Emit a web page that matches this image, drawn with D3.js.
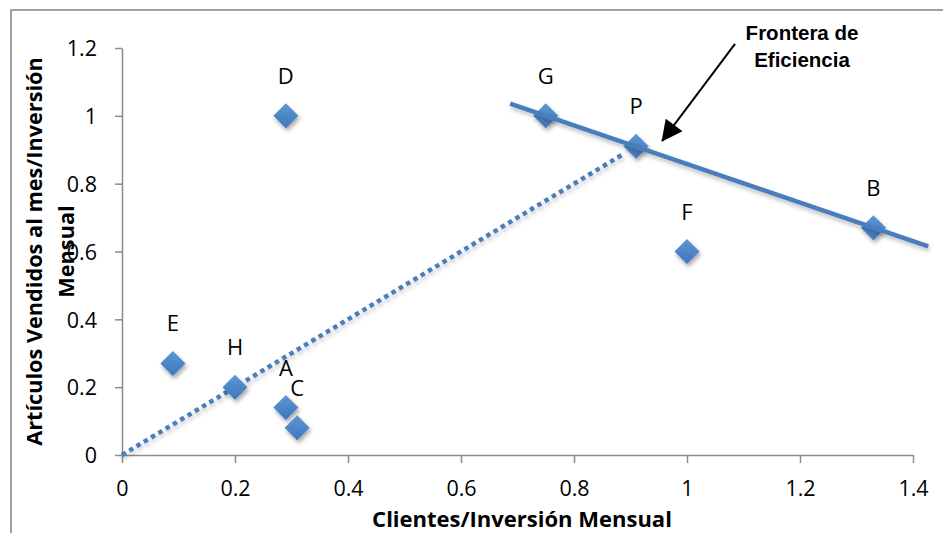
<!DOCTYPE html>
<html>
<head>
<meta charset="utf-8">
<script src="https://cdn.jsdelivr.net/npm/d3@7/dist/d3.min.js"></script>
<style>
  html, body { margin: 0; padding: 0; background: #fff; }
  svg { display: block; }
</style>
</head>
<body>
<svg id="chart" width="943" height="533"></svg>
<script>
// Puntos evaluados: clientes e artículos vendidos por inversión mensual
const labels  = ["D", "G", "P", "B", "F", "E", "H", "A", "C"];
const xValues = [0.29, 0.75, 0.91, 1.33, 1.00, 0.09, 0.20, 0.29, 0.31];
const yValues = [1.00, 1.00, 0.91, 0.67, 0.60, 0.27, 0.20, 0.14, 0.08];

// Frontera de eficiencia (recta por G, P, B) y rayo desde el origen hacia P
const frontierX = [0.687, 1.427];
const frontierY = [1.036, 0.615];
const rayX = [0, 0.89];
const rayY = [0, 0.89];

const xTicks = [0, 0.2, 0.4, 0.6, 0.8, 1, 1.2, 1.4];
const yTicks = [0, 0.2, 0.4, 0.6, 0.8, 1, 1.2];

const xTitle = "Clientes/Inversión Mensual";
const yTitleLines = ["Artículos Vendidos al mes/Inversión", "Mensual"];
const noteLines = ["Frontera de", "Eficiencia"];

const svg = d3.select("#chart");
const W = 943, H = 533;
const plot = { left: 122, right: 913, top: 48, bottom: 455 };

const x = d3.scaleLinear().domain([0, 1.4]).range([plot.left, plot.right]);
const y = d3.scaleLinear().domain([0, 1.2]).range([plot.bottom, plot.top]);

const blue = "#4a7ebd";
const axisGrey = "#8c8c8c";
const tickFont = "'Open Sans', 'Liberation Sans', sans-serif";

// definitions: marker gradient, soft shadow, arrow head
const defs = svg.append("defs");
const grad = defs.append("linearGradient").attr("id", "dgrad")
  .attr("x1", "0").attr("y1", "0").attr("x2", "0").attr("y2", "1");
grad.append("stop").attr("offset", "0%").attr("stop-color", "#5c97d6");
grad.append("stop").attr("offset", "100%").attr("stop-color", "#3f76b9");

const sh = defs.append("filter").attr("id", "shadow")
  .attr("x", "-50%").attr("y", "-50%").attr("width", "200%").attr("height", "200%");
sh.append("feDropShadow").attr("dx", 1.5).attr("dy", 3).attr("stdDeviation", 2)
  .attr("flood-color", "#000").attr("flood-opacity", 0.35);

const lsh = defs.append("filter").attr("id", "lshadow")
  .attr("x", "-10%").attr("y", "-50%").attr("width", "120%").attr("height", "200%");
lsh.append("feDropShadow").attr("dx", 1).attr("dy", 3).attr("stdDeviation", 2)
  .attr("flood-color", "#000").attr("flood-opacity", 0.25);

defs.append("marker").attr("id", "arrowhead")
  .attr("viewBox", "0 0 10 10").attr("refX", 9.5).attr("refY", 5)
  .attr("markerUnits", "userSpaceOnUse")
  .attr("markerWidth", 24).attr("markerHeight", 21)
  .attr("orient", "auto")
  .append("path").attr("d", "M0,0 L10,5 L0,10 Z").attr("fill", "#000");

// chart area frame
svg.append("path")
  .attr("d", `M11,${H + 2} L11,10 L${W + 2},10`)
  .attr("fill", "none").attr("stroke", "#a0a0a0").attr("stroke-width", 2);

// axes
const xAxis = svg.append("g")
  .attr("transform", `translate(0,${plot.bottom})`)
  .call(d3.axisBottom(x).tickValues(xTicks).tickFormat(d3.format("")).tickSizeInner(8).tickSizeOuter(0));
const yAxis = svg.append("g")
  .attr("transform", `translate(${plot.left},0)`)
  .call(d3.axisLeft(y).tickValues(yTicks).tickFormat(d3.format("")).tickSizeInner(7).tickSizeOuter(0));

[xAxis, yAxis].forEach(g => {
  g.select(".domain").attr("stroke", axisGrey).attr("stroke-width", 1.5);
  g.selectAll(".tick line").attr("stroke", axisGrey).attr("stroke-width", 1.5);
  g.selectAll(".tick text")
    .attr("fill", "#000")
    .style("font-family", tickFont)
    .style("font-size", "21.5px");
});
xAxis.selectAll(".tick text").attr("y", 41).attr("dy", 0);
yAxis.selectAll(".tick text").attr("x", -25).attr("dy", "0.36em");

// ray from origin toward P (dotted)
const line = d3.line().x(d => x(d[0])).y(d => y(d[1]));
svg.append("path")
  .datum(rayX.map((v, i) => [v, rayY[i]]))
  .attr("d", line)
  .attr("fill", "none").attr("stroke", blue)
  .attr("stroke-width", 4.5).attr("stroke-dasharray", "4.5,4")
  .attr("filter", "url(#lshadow)");

// points
const pts = labels.map((l, i) => ({ label: l, x: xValues[i], y: yValues[i] }));
const r = 12.5;
svg.append("g").selectAll("path")
  .data(pts).join("path")
  .attr("d", `M0,${-r} L${r},0 L0,${r} L${-r},0 Z`)
  .attr("transform", d => `translate(${x(d.x)},${y(d.y)})`)
  .attr("fill", "url(#dgrad)")
  .attr("filter", "url(#shadow)");

// efficiency frontier (solid)
svg.append("path")
  .datum(frontierX.map((v, i) => [v, frontierY[i]]))
  .attr("d", line)
  .attr("fill", "none").attr("stroke", blue)
  .attr("stroke-width", 4.5)
  .attr("filter", "url(#lshadow)");

// point labels
svg.append("g").selectAll("text")
  .data(pts).join("text")
  .attr("x", d => x(d.x))
  .attr("y", d => y(d.y) - 32)
  .attr("text-anchor", "middle")
  .style("font-family", tickFont)
  .style("font-size", "22px")
  .attr("fill", "#000")
  .text(d => d.label);

// axis titles
svg.append("text")
  .attr("x", 522)
  .attr("y", 526.5)
  .attr("text-anchor", "middle")
  .style("font-family", tickFont)
  .style("font-size", "22px")
  .style("font-weight", "bold")
  .text(xTitle);

const yt = svg.append("text")
  .attr("transform", `translate(42,${(plot.top + plot.bottom) / 2}) rotate(-90)`)
  .attr("text-anchor", "middle")
  .style("font-family", tickFont)
  .style("font-size", "21.7px")
  .style("font-weight", "bold");
yTitleLines.forEach((t, i) => {
  yt.append("tspan").attr("x", 0).attr("dy", i === 0 ? 0 : 32).text(t);
});

// annotation: arrow and note
const arrowFrom = [1.085, 1.212];
const arrowTo = [0.956, 0.926];
svg.append("line")
  .attr("x1", x(arrowFrom[0])).attr("y1", y(arrowFrom[1]))
  .attr("x2", x(arrowTo[0])).attr("y2", y(arrowTo[1]))
  .attr("stroke", "#000").attr("stroke-width", 2)
  .attr("marker-end", "url(#arrowhead)");

const note = svg.append("text")
  .attr("text-anchor", "middle")
  .style("font-family", "'Liberation Sans', Arial, sans-serif")
  .style("font-size", "20.5px")
  .style("font-weight", "bold");
noteLines.forEach((t, i) => {
  note.append("tspan").attr("x", 802).attr("y", 40 + i * 27).text(t);
});
</script>
</body>
</html>
